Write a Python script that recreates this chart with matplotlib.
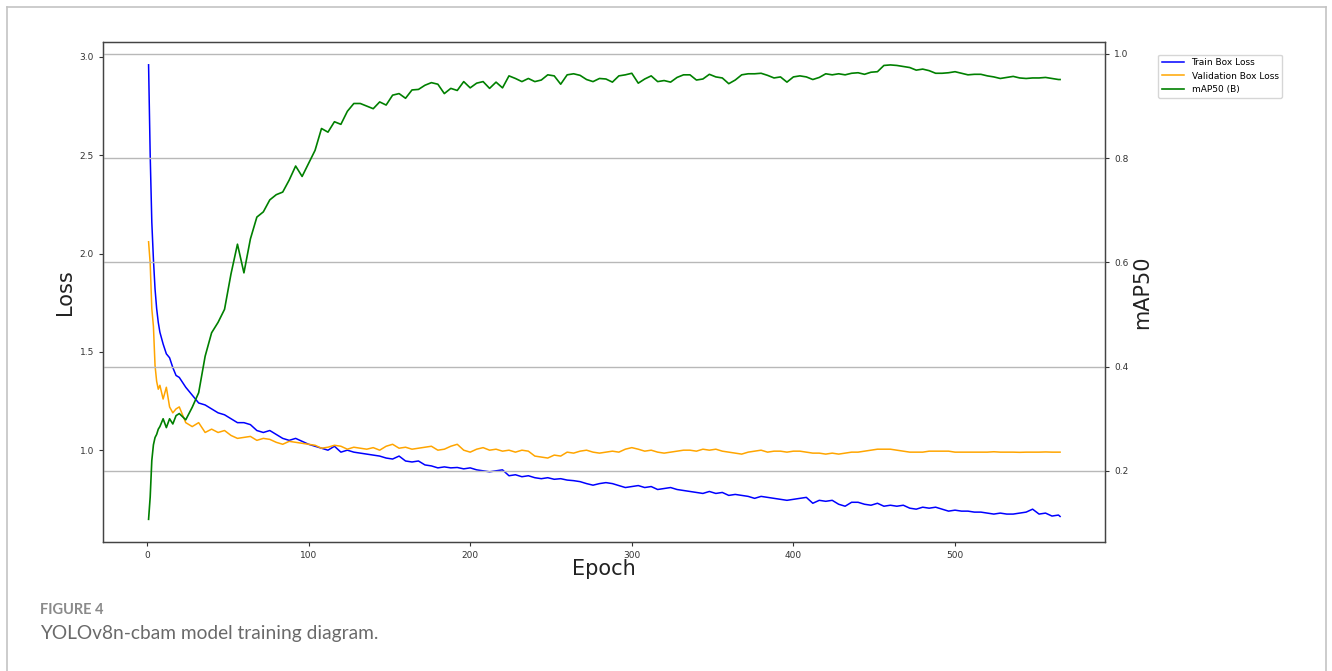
import matplotlib
matplotlib.use("Agg")
import matplotlib.pyplot as plt
from matplotlib.lines import Line2D

# epochs sampled: dense at the start, then every 4 epochs
epochs = [1, 2, 3, 4, 5, 6, 7, 8, 10, 12, 14, 16, 18] + list(range(20, 565, 4)) + [565]

train_box_loss = [
    2.96, 2.50, 2.16, 1.97, 1.82, 1.72, 1.65, 1.60, 1.54, 1.49, 1.47, 1.42, 1.38,
    1.37, 1.32, 1.28, 1.24, 1.23, 1.21, 1.19, 1.18, 1.16, 1.14,             # 20-56
    1.14, 1.13, 1.10, 1.09, 1.10, 1.08, 1.06, 1.05, 1.06, 1.045,           # 60-96
    1.03, 1.02, 1.01, 1.00, 1.02, 0.99, 1.00, 0.99, 0.985, 0.98,           # 100-136
    0.975, 0.97, 0.96, 0.955, 0.97, 0.945, 0.94, 0.945, 0.925, 0.92,       # 140-176
    0.91, 0.915, 0.91, 0.912, 0.905, 0.91, 0.90, 0.895, 0.89, 0.895,       # 180-216
    0.90, 0.87, 0.875, 0.865, 0.87, 0.86, 0.855, 0.86, 0.852, 0.855,       # 220-256
    0.848, 0.845, 0.84, 0.83, 0.822, 0.83, 0.835, 0.83, 0.82, 0.81,        # 260-296
    0.815, 0.82, 0.81, 0.815, 0.80, 0.805, 0.81, 0.80, 0.795, 0.79,        # 300-336
    0.785, 0.78, 0.79, 0.78, 0.785, 0.77, 0.775, 0.77, 0.765, 0.755,       # 340-376
    0.765, 0.76, 0.755, 0.75, 0.745, 0.75, 0.755, 0.76, 0.73, 0.745,       # 380-416
    0.74, 0.745, 0.725, 0.715, 0.735, 0.735, 0.725, 0.72, 0.73, 0.715,     # 420-456
    0.72, 0.715, 0.72, 0.705, 0.70, 0.71, 0.705, 0.71, 0.70, 0.69,         # 460-496
    0.695, 0.69, 0.69, 0.685, 0.685, 0.68, 0.675, 0.68, 0.675, 0.675,      # 500-536
    0.68, 0.685, 0.70, 0.675, 0.68, 0.665, 0.67,                           # 540-564
    0.663,
]

val_box_loss = [
    2.06, 1.95, 1.72, 1.63, 1.43, 1.35, 1.31, 1.33, 1.26, 1.32, 1.22, 1.19, 1.21,
    1.22, 1.14, 1.12, 1.14, 1.09, 1.107, 1.09, 1.10, 1.075, 1.06,          # 20-56
    1.065, 1.07, 1.05, 1.06, 1.055, 1.04, 1.03, 1.045, 1.04, 1.035,        # 60-96
    1.03, 1.025, 1.01, 1.015, 1.025, 1.02, 1.005, 1.015, 1.01, 1.005,      # 100-136
    1.013, 1.00, 1.02, 1.03, 1.01, 1.015, 1.005, 1.01, 1.015, 1.02,        # 140-176
    1.00, 1.005, 1.02, 1.03, 1.00, 0.99, 1.005, 1.013, 1.00, 1.005,        # 180-216
    0.995, 1.00, 0.99, 1.00, 0.995, 0.97, 0.965, 0.96, 0.975, 0.97,        # 220-256
    0.99, 0.985, 0.995, 1.00, 0.99, 0.985, 0.99, 0.995, 0.99, 1.005,       # 260-296
    1.013, 1.005, 0.995, 1.00, 0.99, 0.985, 0.99, 0.995, 1.00, 1.00,       # 300-336
    0.995, 1.005, 1.00, 1.005, 0.995, 0.99, 0.985, 0.98, 0.99, 0.995,      # 340-376
    1.00, 0.99, 0.995, 0.995, 0.99, 0.995, 0.995, 0.99, 0.985, 0.985,      # 380-416
    0.98, 0.985, 0.98, 0.985, 0.99, 0.99, 0.995, 1.00, 1.005, 1.005,       # 420-456
    1.005, 1.00, 0.995, 0.99, 0.99, 0.99, 0.995, 0.995, 0.995, 0.995,      # 460-496
    0.99, 0.99, 0.99, 0.99, 0.99, 0.99, 0.992, 0.99, 0.99, 0.99,           # 500-536
    0.989, 0.99, 0.99, 0.99, 0.991, 0.99, 0.99,                            # 540-564
    0.99,
]

map50 = [
    0.107, 0.15, 0.22, 0.25, 0.264, 0.27, 0.28, 0.285, 0.30, 0.283, 0.30, 0.29, 0.306,
    0.31, 0.298, 0.322, 0.35, 0.42, 0.465, 0.485, 0.51, 0.578, 0.635,      # 20-56
    0.58, 0.645, 0.687, 0.697, 0.72, 0.73, 0.735, 0.758, 0.785, 0.765,     # 60-96
    0.79, 0.815, 0.857, 0.85, 0.87, 0.865, 0.89, 0.905, 0.905, 0.90,       # 100-136
    0.895, 0.908, 0.902, 0.921, 0.924, 0.915, 0.931, 0.932, 0.94, 0.945,   # 140-176
    0.942, 0.924, 0.934, 0.93, 0.947, 0.935, 0.944, 0.947, 0.934, 0.946,   # 180-216
    0.935, 0.958, 0.953, 0.947, 0.953, 0.947, 0.95, 0.96, 0.958, 0.942,    # 220-256
    0.96, 0.962, 0.959, 0.951, 0.947, 0.953, 0.952, 0.946, 0.958, 0.96,    # 260-296
    0.963, 0.944, 0.952, 0.958, 0.947, 0.949, 0.946, 0.955, 0.96, 0.96,    # 300-336
    0.95, 0.952, 0.961, 0.956, 0.954, 0.943, 0.95, 0.96, 0.962, 0.962,     # 340-376
    0.963, 0.959, 0.954, 0.956, 0.946, 0.956, 0.958, 0.956, 0.951, 0.955,  # 380-416
    0.962, 0.96, 0.962, 0.96, 0.963, 0.964, 0.961, 0.965, 0.966, 0.978,    # 420-456
    0.979, 0.978, 0.976, 0.974, 0.969, 0.971, 0.968, 0.963, 0.963, 0.964,  # 460-496
    0.966, 0.963, 0.96, 0.961, 0.961, 0.958, 0.956, 0.953, 0.955, 0.957,   # 500-536
    0.954, 0.953, 0.954, 0.954, 0.955, 0.953, 0.951,                       # 540-564
    0.951,
]

assert len(epochs) == len(train_box_loss) == len(val_box_loss) == len(map50)

fig = plt.figure(figsize=(13.32, 6.71), dpi=100)

# page frame around the figure (card border)
frame_c = '#c4c4c4'
fig.add_artist(Line2D([7/1332, 1326/1332], [1 - 7/671, 1 - 7/671], color=frame_c, lw=1.2))
fig.add_artist(Line2D([7/1332, 7/1332], [0, 1 - 7/671], color=frame_c, lw=1.2))
fig.add_artist(Line2D([1326/1332, 1326/1332], [0, 1 - 7/671], color=frame_c, lw=1.2))

ax = fig.add_axes([103/1332, 1 - 542/671, (1105 - 103)/1332, (542 - 42)/671])
ax2 = ax.twinx()

l1, = ax.plot(epochs, train_box_loss, color='blue', lw=1.1, label='Train Box Loss')
l2, = ax.plot(epochs, val_box_loss, color='orange', lw=1.1, label='Validation Box Loss')
l3, = ax2.plot(epochs, map50, color='green', lw=1.2, label='mAP50 (B)')

ax.set_xlim(-27.2, 592.8)
ax.set_ylim(0.533, 3.076)
ax2.set_ylim(0.0635, 1.023)
ax.set_xticks([0, 100, 200, 300, 400, 500])
ax.set_yticks([1.0, 1.5, 2.0, 2.5, 3.0])
ax2.set_yticks([0.2, 0.4, 0.6, 0.8, 1.0])
ax2.grid(True, axis='y', color='#b8b8b8', lw=1.0)

for a in (ax, ax2):
    a.tick_params(labelsize=6.5, colors='#333333', length=3)
    for s in a.spines.values():
        s.set_color('#444444')
        s.set_linewidth(0.9)

ax.set_xlabel('Epoch', fontsize=15, color='#222222', labelpad=-1)
ax.set_ylabel('Loss', fontsize=15, color='#222222', labelpad=3)
ax2.set_ylabel('mAP50', fontsize=15, color='#222222', labelpad=3)

ax.legend(handles=[l1, l2, l3], loc='upper left', bbox_to_anchor=(1.053, 0.975),
          borderaxespad=0, fontsize=6.5, frameon=True, edgecolor='#cccccc',
          handlelength=2.5, labelspacing=0.5)

# caption
fig.text(40/1332, 1 - 610/671, 'FIGURE 4', fontsize=10.5, fontweight='bold',
         color='#8a8a8a', family='Lato', va='center')
fig.text(40/1332, 1 - 634/671, 'YOLOv8n-cbam model training diagram.', fontsize=13.8,
         color='#6a6a6a', family='Lato', va='center')

fig.savefig('out.png', dpi=100)
